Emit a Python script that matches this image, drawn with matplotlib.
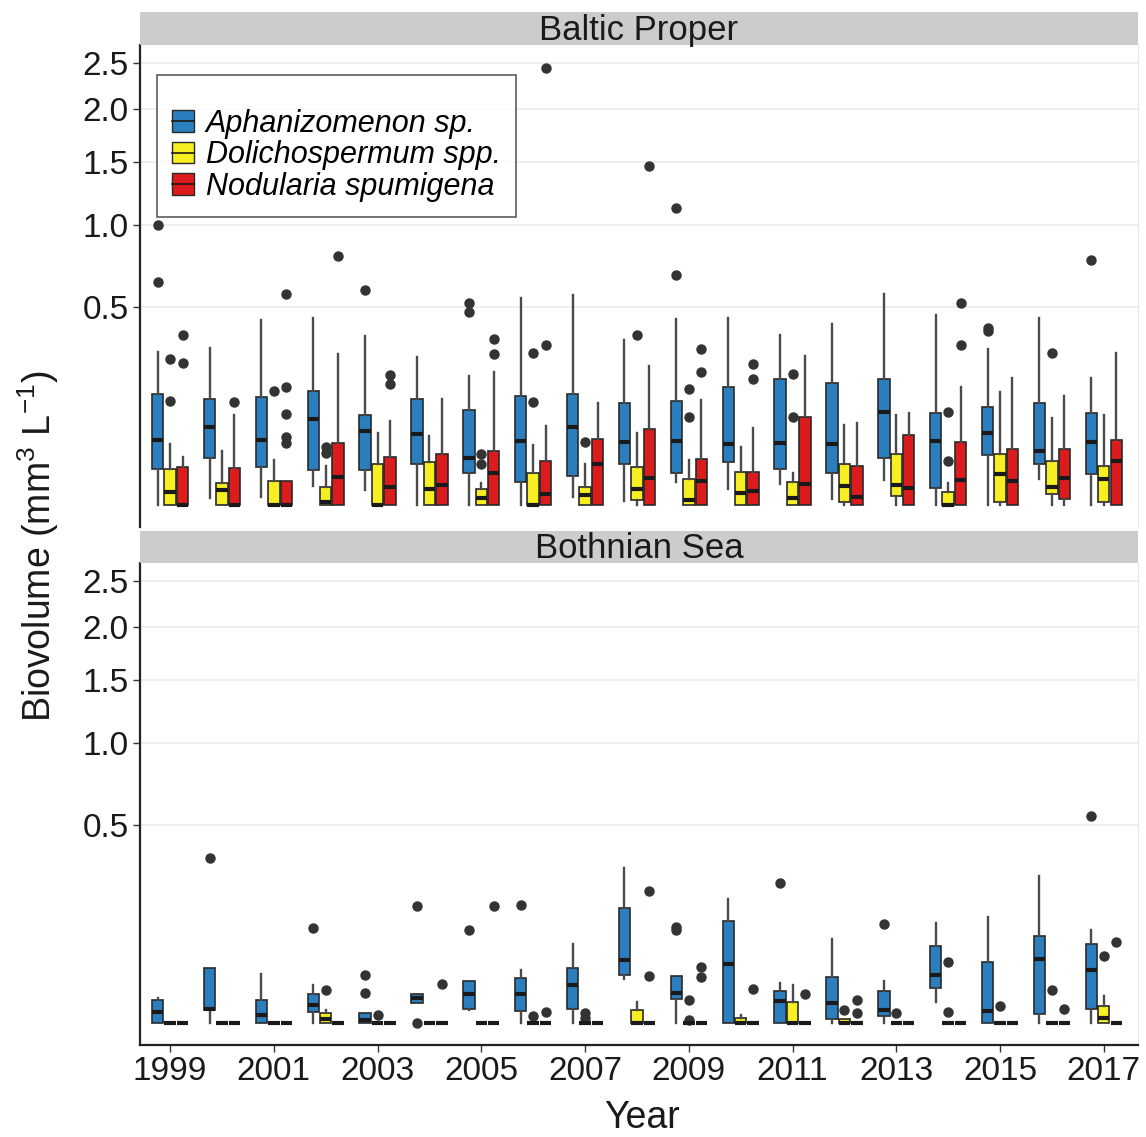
import matplotlib
matplotlib.use('Agg')
import matplotlib.pyplot as plt
from matplotlib.patches import Patch
from matplotlib.lines import Line2D
from matplotlib.legend_handler import HandlerTuple
import numpy as np

plt.rcParams['font.family'] = ['Liberation Sans', 'DejaVu Sans']
plt.rcParams['mathtext.fontset'] = 'custom'
plt.rcParams['mathtext.rm'] = 'Liberation Sans'
plt.rcParams['mathtext.it'] = 'Liberation Sans:italic'

years = list(range(1999, 2018))
panels = ['Baltic Proper', 'Bothnian Sea']
species = ['Aphanizomenon sp.', 'Dolichospermum spp.', 'Nodularia spumigena']
colors = ['#2b7fbf', '#f7ef22', '#dc1c1c']
yticks = [0.5, 1.0, 1.5, 2.0, 2.5]
xticks = list(range(1999, 2018, 2))

# each box: (lower whisker, q1, median, q3, upper whisker), in mm3 L-1
Z = (0, 0, 0, 0, 0)

# Baltic Proper
bp_aph = [(0, 0.017, 0.054, 0.156, 0.299), (0.0006, 0.0285, 0.078, 0.144, 0.316),
          (0.0009, 0.018, 0.054, 0.150, 0.435), (0.0046, 0.0156, 0.094, 0.167, 0.445),
          (0.0029, 0.0156, 0.070, 0.103, 0.364), (0, 0.021, 0.064, 0.143, 0.279),
          (0, 0.013, 0.028, 0.115, 0.212), (0, 0.007, 0.053, 0.153, 0.545),
          (0.0009, 0.011, 0.078, 0.157, 0.563), (0.0002, 0.022, 0.050, 0.132, 0.347),
          (0.0069, 0.013, 0.053, 0.139, 0.441), (0.0031, 0.024, 0.048, 0.179, 0.448),
          (0.0056, 0.0165, 0.049, 0.203, 0.369), (0.0004, 0.013, 0.047, 0.189, 0.417),
          (0.008, 0.028, 0.110, 0.203, 0.568), (0, 0.0038, 0.053, 0.107, 0.461),
          (0, 0.032, 0.066, 0.122, 0.310), (0.0084, 0.021, 0.037, 0.134, 0.448),
          (0, 0.012, 0.050, 0.109, 0.207)]
bp_aph_out = [[1.0, 0.633], [], [], [], [0.590], [], [0.519, 0.477], [], [], [],
              [1.125, 0.673], [], [], [], [], [], [0.388, 0.40], [], [0.766]]

bp_dol = [(0, 0, 0.002, 0.017, 0.047), (0, 0, 0.0029, 0.006, 0.037),
          (0, 0, 0, 0.0072, 0.0255), (0, 0, 0.0001, 0.004, 0.0197),
          (0, 0, 0, 0.0218, 0.0655), (0, 0, 0.0031, 0.0236, 0.0613),
          (0, 0, 0.0006, 0.0031, 0.006), (0, 0, 0, 0.0133, 0.0459),
          (0, 0, 0.0013, 0.004, 0.0218), (0, 0.0003, 0.0031, 0.018, 0.0655),
          (0, 0, 0.0003, 0.0084, 0.0258), (0, 0, 0.0017, 0.0142, 0.0434),
          (0, 0, 0.0006, 0.0069, 0.0133), (0, 0.0001, 0.0048, 0.0211, 0.0816),
          (0, 0.001, 0.0051, 0.0332, 0.1033), (0, 0, 0, 0.0023, 0.006),
          (0, 0.0001, 0.0123, 0.0332, 0.162), (0, 0.0015, 0.004, 0.0247, 0.0973),
          (0, 0.0001, 0.0084, 0.0197, 0.1033)]
bp_dol_out = [[0.272, 0.138], [], [0.167], [0.043, 0.035], [], [], [0.033, 0.022],
              [0.136, 0.296], [0.051], [0.369], [0.171, 0.0995], [], [0.218, 0.0995],
              [], [], [0.111, 0.0247], [], [0.296], []]

bp_nod = [(0, 0, 0, 0.018, 0.029), (0, 0, 0, 0.0178, 0.1026),
          (0, 0, 0, 0.0072, 0.0072), (0, 0, 0.0102, 0.0495, 0.291),
          (0, 0, 0.0043, 0.029, 0.090), (0, 0, 0.0051, 0.0332, 0.1425),
          (0, 0, 0.0128, 0.0372, 0.2267), (0, 0, 0.0015, 0.0247, 0.080),
          (0, 0, 0.0211, 0.055, 0.132), (0, 0, 0.0091, 0.073, 0.246),
          (0, 0, 0.0073, 0.027, 0.1406), (0, 0, 0.0026, 0.0142, 0.075),
          (0, 0, 0.0055, 0.0995, 0.283), (0, 0, 0.0009, 0.0194, 0.085),
          (0, 0, 0.0036, 0.0625, 0.1087), (0, 0, 0.008, 0.0512, 0.1767),
          (0, 0, 0.0075, 0.040, 0.2068), (0, 0.0004, 0.0091, 0.040, 0.1516),
          (0, 0, 0.0247, 0.0539, 0.2935)]
bp_nod_out = [[0.369, 0.257], [0.1345], [0.177, 0.1056, 0.0595, 0.0495, 0.568],
              [0.791], [0.2156, 0.1867], [], [0.3515, 0.291], [0.3265, 2.444], [],
              [1.466], [0.310, 0.2267], [0.2536, 0.2015], [], [], [], [0.519, 0.3265],
              [], [], []]

# Bothnian Sea
bs_aph = [(0, 0, 0.0016, 0.0065, 0.0081), (0, 0.0021, 0.0026, 0.0389, 0.0389),
          (0, 0, 0.0009, 0.0066, 0.0313), (0, 0.0015, 0.004, 0.0111, 0.0182),
          (0, 0, 0.0001, 0.0013, 0.0013), (0.0052, 0.0052, 0.0081, 0.0111, 0.0111),
          (0.0021, 0.0026, 0.0104, 0.023, 0.023), (0, 0.0018, 0.0109, 0.026, 0.0365),
          (0, 0.0026, 0.0189, 0.0389, 0.0806), (0.0249, 0.0291, 0.0503, 0.169, 0.307),
          (0, 0.0075, 0.0116, 0.028, 0.028), (0, 0, 0.0452, 0.132, 0.197),
          (0, 0, 0.0061, 0.0129, 0.0206), (0, 0.0002, 0.0052, 0.0268, 0.0904),
          (0, 0.0007, 0.0023, 0.0129, 0.0223), (0.0057, 0.0158, 0.030, 0.0766, 0.128),
          (0, 0, 0.0018, 0.0478, 0.1428), (0, 0.0011, 0.0526, 0.0977, 0.2775),
          (0, 0.0026, 0.0365, 0.080, 0.110)]
bs_aph_out = [[], [0.349], [], [0.1156], [0.030, 0.0116], [0.176, 0], [0.1115],
              [0.179], [], [], [0.118, 0.110], [], [0.25], [], [0.1263], [], [], [],
              [0.5455]]

bs_dol = [Z, Z, Z, (0, 0, 0.0002, 0.0013, 0.0023), Z, Z, Z, Z, Z,
          (0, 0, 0, 0.0023, 0.0057), Z, (0, 0, 0, 0.0003, 0.0009),
          (0, 0, 0, 0.0057, 0.0182), (0, 0, 0, 0.0002, 0.0002), Z, Z, Z, Z,
          (0, 0, 0.0003, 0.0036, 0.0092)]
bs_dol_out = [[], [], [], [0.0137], [0.0008], [], [], [0.0006], [0.0013, 0.0003],
              [], [0.0065, 0.0001], [], [], [0.002], [0.0013], [0.0478, 0.0016],
              [0.0039], [0.0137], [0.0581]]

bs_nod = [Z] * 19
bs_nod_out = [[], [], [], [], [], [0.0199], [0.174], [0.0016], [], [0.2216, 0.028],
              [0.0397, 0.0268], [0.0152], [0.0104], [0.007, 0.0013], [], [], [],
              [0.0026], [0.0833]]

panel_data = [
    [(bp_aph, bp_aph_out), (bp_dol, bp_dol_out), (bp_nod, bp_nod_out)],
    [(bs_aph, bs_aph_out), (bs_dol, bs_dol_out), (bs_nod, bs_nod_out)],
]


def fwd(v):
    v = np.asarray(v, dtype=float)
    return np.sign(v) * np.sqrt(np.abs(v))


def inv(v):
    v = np.asarray(v, dtype=float)
    return np.sign(v) * v ** 2


W, H = 1146, 1137
fig = plt.figure(figsize=(W / 100, H / 100), dpi=100)

# pixel boxes: (left, top, right, bottom)
ax_px = [(140, 45, 1138, 527), (140, 563, 1138, 1045)]
strip_px = [(140, 12, 1138, 45), (140, 531, 1138, 563)]


def frac(b):
    l, t, r, btm = b
    return [l / W, 1 - btm / H, (r - l) / W, (btm - t) / H]


dodge = 0.24
axes = []
for p, name in enumerate(panels):
    ax = fig.add_axes(frac(ax_px[p]))
    ax.set_yscale('function', functions=(fwd, inv))
    for k in range(3):
        boxes, outs = panel_data[p][k]
        stats = []
        for b, o in zip(boxes, outs):
            stats.append(dict(whislo=b[0], q1=b[1], med=b[2], q3=b[3], whishi=b[4],
                              fliers=o))
        pos = [y + (k - 1) * dodge for y in years]
        ax.bxp(stats, positions=pos, widths=0.22, patch_artist=True, showcaps=False,
               manage_ticks=False,
               boxprops=dict(facecolor=colors[k], edgecolor='#2a2a2a', linewidth=1.2),
               whiskerprops=dict(color='#4a4a4a', linewidth=1.7),
               medianprops=dict(color='#1a1a1a', linewidth=3.0),
               flierprops=dict(marker='o', markerfacecolor='#333333',
                               markeredgecolor='#333333', markersize=6.5))
    ax.set_ylim(-0.0786 ** 2, 1.644 ** 2)
    ax.set_xlim(1998.42, 2017.66)
    ax.set_yticks(yticks)
    ax.set_yticklabels([f'{t:.1f}' for t in yticks])
    ax.yaxis.set_minor_locator(matplotlib.ticker.NullLocator())
    ax.yaxis.grid(True, color='#ececec', linewidth=1.2)
    ax.set_axisbelow(True)
    ax.tick_params(axis='y', labelsize=24, length=5, width=1, color='#333333',
                   labelcolor='#1a1a1a', pad=3)
    ax.spines['top'].set_visible(False)
    ax.spines['right'].set_color('#e6e6e6')
    ax.spines['left'].set_color('#222222')
    ax.spines['left'].set_linewidth(1.6)
    if p == 0:
        ax.spines['bottom'].set_visible(False)
        ax.set_xticks([])
    else:
        ax.spines['bottom'].set_color('#222222')
        ax.spines['bottom'].set_linewidth(1.6)
        ax.set_xticks(xticks)
        ax.set_xticklabels([str(x) for x in xticks])
        ax.tick_params(axis='x', labelsize=24, length=5, width=1, color='#333333',
                       labelcolor='#1a1a1a', pad=3)
    sax = fig.add_axes(frac(strip_px[p]))
    sax.set_facecolor('#cccccc')
    sax.set_xticks([])
    sax.set_yticks([])
    for s in sax.spines.values():
        s.set_visible(False)
    sax.text(0.5, 0.45, name, ha='center', va='center', fontsize=25,
             color='#1a1a1a', transform=sax.transAxes)
    axes.append(ax)

# legend key: filled box with a median line through it
handles = [(Patch(facecolor=c, edgecolor='#2a2a2a', linewidth=1),
            Line2D([], [], color='#1a1a1a', linewidth=1.2)) for c in colors]
leg = axes[0].legend(handles, species, loc='upper left',
                     handler_map={tuple: HandlerTuple(ndivide=1, pad=0)},
                     bbox_to_anchor=((157 - 140) / 998, (527 - 75) / 482),
                     borderaxespad=0, frameon=True, fancybox=False,
                     prop=dict(size=22, style='italic'), title=' ',
                     title_fontsize=14, handlelength=0.7, handleheight=0.7,
                     handletextpad=0.4, labelspacing=0.05, borderpad=0.5)
leg.get_frame().set_edgecolor('#333333')
leg.get_frame().set_linewidth(1.2)

fig.text(38 / W, 1 - 546 / H, 'Biovolume (mm$^{3}$ L$^{-1}$)', rotation=90,
         ha='center', va='center', fontsize=27, color='#1a1a1a')
fig.text(642 / W, 1 - 1118 / H, 'Year', ha='center', va='center', fontsize=27,
         color='#1a1a1a')

fig.savefig('out.png', dpi=100)
